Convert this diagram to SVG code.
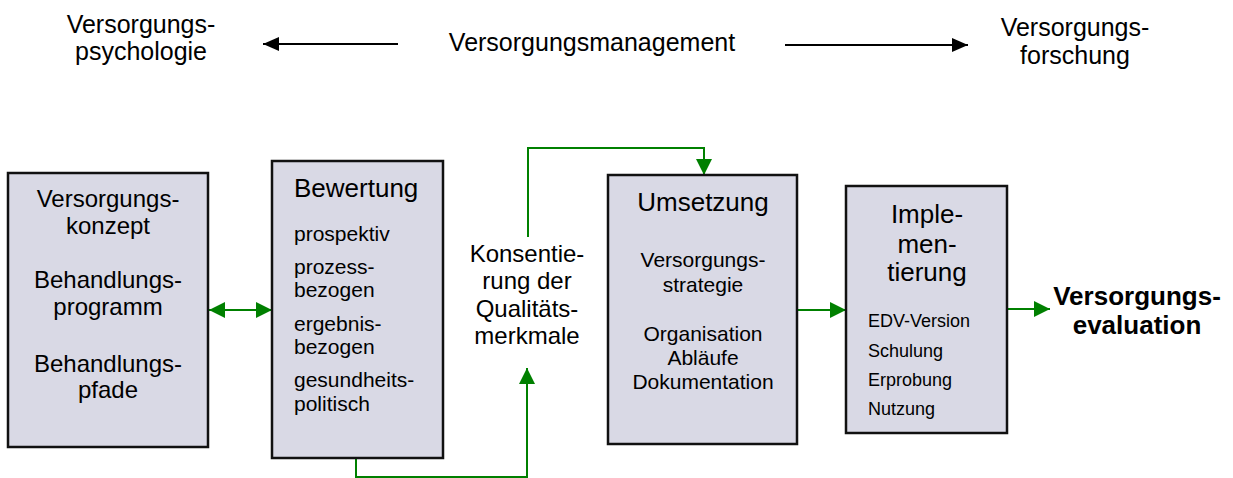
<svg xmlns="http://www.w3.org/2000/svg" width="1233" height="478" viewBox="0 0 1233 478">
<style>
text{font-family:"Liberation Sans",Arial,sans-serif;fill:#000}
.box{fill:#d9d9e5;stroke:#111;stroke-width:2.5}
.g{stroke:#008000;stroke-width:2;fill:none}
.k{stroke:#000;stroke-width:2;fill:none}
.c{text-anchor:middle}
.t24{font-size:24px}
.t26{font-size:26px}
.t21{font-size:21px}
.t18{font-size:18px}
.t25{font-size:25px}
.b{font-weight:bold;font-size:26px}
</style>
<defs>
<marker id="ga" markerUnits="userSpaceOnUse" markerWidth="18" markerHeight="16" refX="16" refY="8" orient="auto-start-reverse">
<path d="M0,0 L16,8 L0,16 Z" fill="#008000"/>
</marker>
<marker id="ka" markerUnits="userSpaceOnUse" markerWidth="18" markerHeight="16" refX="16" refY="8" orient="auto-start-reverse">
<path d="M0,1 L16,8 L0,15 Z" fill="#000"/>
</marker>
</defs>

<g id="connectors">
<line class="k" x1="398" y1="44" x2="263" y2="44" marker-end="url(#ka)"/>
<line class="k" x1="785" y1="45" x2="968" y2="45" marker-end="url(#ka)"/>
<line class="g" x1="209" y1="310" x2="272" y2="310" marker-start="url(#ga)" marker-end="url(#ga)"/>
<polyline class="g" points="528,237 528,148 704,148 704,175" marker-end="url(#ga)"/>
<polyline class="g" points="356,459 356,477 527,477 527,368" marker-end="url(#ga)"/>
<line class="g" x1="797" y1="310" x2="846" y2="310" marker-end="url(#ga)"/>
<line class="g" x1="1007" y1="309" x2="1050" y2="309" marker-end="url(#ga)"/>
</g>

<g id="top-left">
<text class="t25 c" x="141" y="33">Versorgungs-</text>
<text class="t25 c" x="141" y="60">psychologie</text>
</g>
<g id="top-center">
<text class="t25 c" x="592" y="51">Versorgungsmanagement</text>
</g>
<g id="top-right">
<text class="t25 c" x="1075" y="36">Versorgungs-</text>
<text class="t25 c" x="1075" y="64">forschung</text>
</g>

<g id="konzept">
<rect class="box" x="8" y="173" width="200" height="274"/>
<text class="t24 c" x="108" y="207">Versorgungs-</text>
<text class="t24 c" x="108" y="234">konzept</text>
<text class="t24 c" x="108" y="288">Behandlungs-</text>
<text class="t24 c" x="108" y="315">programm</text>
<text class="t24 c" x="108" y="372">Behandlungs-</text>
<text class="t24 c" x="108" y="398">pfade</text>
</g>

<g id="bewertung">
<rect class="box" x="272" y="161" width="171" height="297"/>
<text class="t26" x="294" y="197">Bewertung</text>
<text class="t21" x="294" y="241">prospektiv</text>
<text class="t21" x="294" y="274">prozess-</text>
<text class="t21" x="294" y="297">bezogen</text>
<text class="t21" x="294" y="331">ergebnis-</text>
<text class="t21" x="294" y="354">bezogen</text>
<text class="t21" x="294" y="387">gesundheits-</text>
<text class="t21" x="294" y="411">politisch</text>
</g>

<g id="konsentierung">
<text class="t24 c" x="527" y="262">Konsentie-</text>
<text class="t24 c" x="527" y="289">rung der</text>
<text class="t24 c" x="527" y="317">Qualitäts-</text>
<text class="t24 c" x="527" y="344">merkmale</text>
</g>

<g id="umsetzung">
<rect class="box" x="608" y="175" width="189" height="269"/>
<text class="t26 c" x="703" y="211">Umsetzung</text>
<text class="t21 c" x="703" y="267">Versorgungs-</text>
<text class="t21 c" x="703" y="292">strategie</text>
<text class="t21 c" x="703" y="341">Organisation</text>
<text class="t21 c" x="703" y="365">Abläufe</text>
<text class="t21 c" x="703" y="389">Dokumentation</text>
</g>

<g id="implementierung">
<rect class="box" x="846" y="186" width="161" height="247"/>
<text class="t26 c" x="927" y="223">Imple-</text>
<text class="t26 c" x="927" y="253">men-</text>
<text class="t26 c" x="927" y="281">tierung</text>
<text class="t18" x="868" y="327">EDV-Version</text>
<text class="t18" x="868" y="357">Schulung</text>
<text class="t18" x="868" y="386">Erprobung</text>
<text class="t18" x="868" y="415">Nutzung</text>
</g>

<g id="evaluation">
<text class="b c" x="1137" y="305">Versorgungs-</text>
<text class="b c" x="1137" y="334">evaluation</text>
</g>
</svg>
